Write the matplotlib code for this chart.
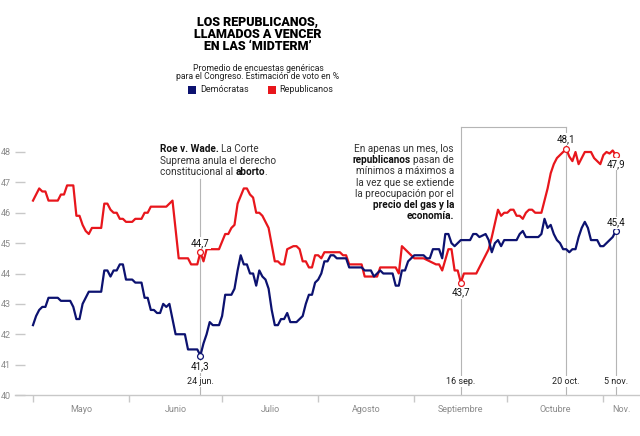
import matplotlib
matplotlib.use("Agg")
import matplotlib.pyplot as plt
from matplotlib.patches import Rectangle

# ---------------- data (day index counted from 1 May 2022) ----------------
rep_day = [0, 2, 3, 4, 5, 8, 9, 10, 11, 13, 14, 15, 16, 17, 18, 19, 22, 23, 24, 25, 26, 27,
           28, 29, 30, 32, 33, 35, 36, 37, 38, 43, 44, 45, 47, 50, 51, 53, 54, 55, 56, 60,
           62, 63, 64, 65, 66, 68, 69, 70, 71, 72, 73, 74, 75, 76, 78, 79, 80, 81, 82, 84,
           85, 86, 87, 88, 89, 90, 91, 92, 93, 94, 99, 100, 101, 102, 106, 107, 111, 112,
           117, 118, 119, 120, 121, 122, 123, 126, 128, 130, 131, 132, 134, 135, 136, 137,
           138, 139, 143, 144, 146, 147, 148, 150, 151, 152, 153, 154, 155, 156, 157, 158,
           159, 160, 161, 162, 164, 165, 166, 167, 168, 169, 170, 171, 172, 173, 174, 175,
           176, 177, 178, 180, 181, 183, 184, 185, 186, 187, 188]
rep_val = [46.4, 46.8, 46.7, 46.7, 46.4, 46.4, 46.6, 46.6, 46.9, 46.9, 45.9, 45.9, 45.6, 45.4,
           45.3, 45.5, 45.5, 46.3, 46.3, 46.1, 46.0, 46.0, 45.8, 45.8, 45.7, 45.7, 45.8, 45.8,
           46.0, 46.0, 46.2, 46.2, 46.3, 46.4, 44.5, 44.5, 44.3, 44.3, 44.7, 44.4, 44.8, 44.8,
           45.3, 45.3, 45.5, 45.6, 46.3, 46.8, 46.8, 46.6, 46.5, 46.0, 46.0, 45.9, 45.7, 45.5,
           44.4, 44.4, 44.3, 44.3, 44.8, 44.9, 44.9, 44.8, 44.4, 44.4, 44.2, 44.2, 44.6, 44.6,
           44.5, 44.7, 44.7, 44.6, 44.6, 44.3, 44.3, 43.9, 43.9, 44.2, 44.2, 44.0, 44.9, 44.8,
           44.7, 44.6, 44.5, 44.5, 44.4, 44.3, 44.3, 44.1, 44.8, 44.8, 44.1, 44.1, 43.7, 44.0,
           44.0, 44.2, 44.6, 44.8, 45.2, 46.1, 45.9, 46.0, 46.0, 46.1, 46.1, 45.9, 45.9, 45.8,
           46.0, 46.1, 46.1, 46.0, 46.0, 46.4, 46.8, 47.3, 47.6, 47.8, 47.9, 48.0, 48.1, 47.85,
           47.7, 48.0, 47.6, 47.8, 48.0, 48.0, 47.8, 47.6, 47.9, 48.0, 47.95, 48.05, 47.9]

dem_day = [0, 1, 2, 3, 4, 5, 8, 9, 12, 13, 14, 15, 16, 17, 18, 22, 23, 24, 25, 26, 27, 28, 29,
           30, 32, 33, 35, 36, 37, 38, 39, 40, 41, 42, 43, 44, 45, 46, 47, 49, 50, 53, 54, 55,
           56, 57, 58, 60, 61, 62, 64, 65, 66, 67, 68, 69, 70, 71, 72, 73, 74, 75, 76, 77, 78,
           79, 80, 81, 82, 83, 85, 86, 87, 88, 89, 90, 91, 92, 93, 94, 95, 96, 97, 98, 101, 102,
           106, 107, 109, 110, 112, 113, 116, 117, 118, 119, 120, 121, 123, 126, 127, 128, 129,
           131, 132, 133, 134, 135, 136, 137, 138, 141, 142, 143, 144, 146, 147, 148, 149, 150,
           151, 152, 156, 157, 158, 159, 163, 164, 165, 166, 167, 168, 169, 170, 171, 172, 173,
           174, 175, 176, 177, 178, 179, 180, 182, 183, 184, 185, 186, 187, 188]
dem_val = [42.3, 42.6, 42.8, 42.9, 42.9, 43.2, 43.2, 43.1, 43.1, 42.9, 42.5, 42.5, 43.0, 43.2,
           43.4, 43.4, 44.1, 44.1, 43.9, 44.1, 44.1, 44.3, 44.3, 43.8, 43.8, 43.7, 43.7, 43.2,
           43.2, 42.8, 42.8, 42.7, 42.7, 43.0, 42.9, 43.0, 42.5, 42.0, 42.0, 42.0, 41.5, 41.5,
           41.3, 41.7, 42.0, 42.4, 42.3, 42.3, 42.6, 43.3, 43.3, 43.5, 44.1, 44.6, 44.3, 44.3,
           44.0, 44.0, 43.6, 44.1, 43.9, 43.8, 43.5, 42.8, 42.3, 42.3, 42.5, 42.5, 42.7, 42.4,
           42.4, 42.5, 42.6, 43.0, 43.3, 43.3, 43.7, 43.8, 44.0, 44.4, 44.4, 44.6, 44.6, 44.5,
           44.5, 44.2, 44.2, 44.1, 44.1, 43.9, 44.1, 44.0, 44.0, 43.6, 43.6, 44.1, 44.1, 44.4,
           44.6, 44.6, 44.5, 44.5, 44.8, 44.8, 44.5, 45.3, 45.3, 45.0, 44.9, 45.0, 45.1, 45.1,
           45.3, 45.3, 45.2, 45.3, 45.1, 44.7, 45.0, 45.1, 44.9, 45.1, 45.1, 45.3, 45.4, 45.2,
           45.2, 45.3, 45.8, 45.5, 45.6, 45.3, 45.1, 45.0, 44.8, 44.8, 44.7, 44.8, 44.8, 45.2,
           45.5, 45.7, 45.5, 45.1, 45.1, 44.9, 44.9, 45.0, 45.1, 45.2, 45.4]

month_start = [0, 31, 61, 92, 123, 153, 184]
month_names = ["Mayo", "Junio", "Julio", "Agosto", "Septiembre", "Octubre", "Nov."]
y_ticks = [40, 41, 42, 43, 44, 45, 46, 47, 48]

# highlighted dates: (day, label)
key_days = [54, 138, 172, 188]
key_labels = ["24 jun.", "16 sep.", "20 oct.", "5 nov."]

# highlighted points
hl_day = [54, 54, 138, 172, 188, 188]
hl_val = [44.7, 41.3, 43.7, 48.1, 47.9, 45.4]
hl_txt = ["44,7", "41,3", "43,7", "48,1", "47,9", "45,4"]
hl_ser = ["R", "D", "R", "R", "R", "D"]

RED = "#e8161c"
BLUE = "#0c1270"
GRID = "#c8c8c8"
FONT = ["Roboto", "DejaVu Sans"]
NARROW = ["Liberation Sans Narrow", "Roboto", "DejaVu Sans"]
plt.rcParams["font.family"] = FONT

W, H = 640, 436
fig = plt.figure(figsize=(W / 100, H / 100), dpi=100)
PX_PER_DAY = 3.1
X0 = 33  # pixel of day 0
ax = fig.add_axes([15 / W, 41 / H, 625 / W, 243 / H])
ax.set_xlim((15 - X0) / PX_PER_DAY, (640 - X0) / PX_PER_DAY)
ax.set_ylim(40, 48)

for s in ["top", "right", "left"]:
    ax.spines[s].set_visible(False)
ax.spines["bottom"].set_color(GRID)
ax.spines["bottom"].set_linewidth(1)

ax.set_yticks(y_ticks)
ax.set_yticklabels([str(v) for v in y_ticks])
ax.tick_params(axis="y", direction="in", length=7, width=1, color=GRID,
               labelsize=6.5, labelcolor="#8a8a8a", pad=3)
ax.set_xticks(month_start)
ax.set_xticklabels([""] * len(month_start))
ax.tick_params(axis="x", which="major", direction="out", length=5, width=1, color=GRID)
ends = month_start[1:] + [ax.get_xlim()[1]]
ax.set_xticks([(a + b) / 2 for a, b in zip(month_start, ends)], minor=True)
ax.set_xticklabels(month_names, minor=True)
ax.tick_params(axis="x", which="minor", length=0, labelsize=6.5, labelcolor="#8a8a8a", pad=7)

# reference lines
LC = "#b5b5b5"
top_box = 48.82
ax.plot([key_days[0]] * 2, [40, 47.1], color=LC, lw=0.8, zorder=1, clip_on=False)
ax.plot([key_days[1]] * 2, [40, top_box], color=LC, lw=0.8, zorder=1, clip_on=False)
ax.plot([key_days[2]] * 2, [40, top_box], color=LC, lw=0.8, zorder=1, clip_on=False)
ax.plot([key_days[1], key_days[2]], [top_box, top_box], color=LC, lw=0.8, zorder=1, clip_on=False)
ax.plot([key_days[3]] * 2, [40, 47.9], color=LC, lw=0.8, zorder=1, clip_on=False)

ax.plot(rep_day, rep_val, color=RED, lw=1.6, zorder=3, clip_on=False)
ax.plot(dem_day, dem_val, color=BLUE, lw=1.6, zorder=3, clip_on=False)

for d, v, t, s in zip(hl_day, hl_val, hl_txt, hl_ser):
    c = RED if s == "R" else BLUE
    ax.plot([d], [v], "o", ms=4.2, mfc="white", mec=c, mew=0.9, zorder=6, clip_on=False)

PPU = 243 / 8.0  # pixels per unit
def yv(py):
    return 40 + (395 - py) / PPU

label_py = [243, 366.7, 292.7, 139, 164.3, 222.7]
for d, t, py in zip(hl_day, hl_txt, label_py):
    ax.text(d, yv(py), t, ha="center", va="center", fontsize=7, color="#111111",
            zorder=7, bbox=dict(fc="white", ec="none", pad=0.6))

for d, t in zip(key_days, key_labels):
    ax.text(d, yv(381.5), t, ha="center", va="center", fontsize=6.5, color="#222222",
            zorder=7, bbox=dict(fc="white", ec="none", pad=0.8))

# ---------------- titles ----------------
def fx(px):
    return px / W

def fy(py):
    return 1 - py / H

for i, line in enumerate(["LOS REPUBLICANOS,", "LLAMADOS A VENCER", "EN LAS \u2018MIDTERM\u2019"]):
    fig.text(fx(258), fy(22.7 + 12 * i), line, ha="center", va="center", fontsize=9,
             fontweight="black", color="#000000")
fig.text(fx(258), fy(68.3), "Promedio de encuestas genéricas", ha="center", va="center",
         fontsize=6.2, color="#222222")
fig.text(fx(258), fy(76.8), "para el Congreso. Estimación de voto en %", ha="center",
         va="center", fontsize=6.2, color="#222222")

fig.add_artist(Rectangle((fx(187.5), fy(94)), 8.5 / W, 8.5 / H, transform=fig.transFigure,
                         fc=BLUE, ec="none"))
fig.text(fx(200), fy(90), "Demócratas", ha="left", va="center", fontsize=6.5, color="#222222")
fig.add_artist(Rectangle((fx(267.5), fy(94)), 8.5 / W, 8.5 / H, transform=fig.transFigure,
                         fc=RED, ec="none"))
fig.text(fx(279.5), fy(90), "Republicanos", ha="left", va="center", fontsize=6.5,
         color="#222222")

# ---------------- rich annotations ----------------
renderer = fig.canvas.get_renderer()
ANN_SIZE = 7.2

def measure(s, bold):
    t = fig.text(0, 0, s, fontsize=ANN_SIZE, family=NARROW,
                 fontweight="bold" if bold else "normal")
    w = t.get_window_extent(renderer).width
    t.remove()
    return w

SPACE = measure("a a", False) - measure("aa", False)

def rich_line(px, py, parts, ha="left"):
    widths = [measure(s, b) for s, b in parts]
    total = sum(widths) + SPACE * (len(parts) - 1)
    x = px if ha == "left" else px - total
    for (s, b), w in zip(parts, widths):
        fig.text(fx(x), fy(py), s, ha="left", va="center", fontsize=ANN_SIZE, family=NARROW,
                 fontweight="bold" if b else "normal",
                 color="#111111" if b else "#333333")
        x += w + SPACE

left_ann = [
    [("Roe v. Wade.", True), ("La Corte", False)],
    [("Suprema anula el derecho", False)],
    [("constitucional al", False), ("aborto", True)],
]
for i, parts in enumerate(left_ann):
    rich_line(159.5, 149.3 + 11.2 * i, parts, ha="left")
w_prefix = measure("constitucional al", False) + SPACE + measure("aborto", True)
fig.text(fx(159.5 + w_prefix), fy(149.3 + 22.4), ".", ha="left", va="center",
         fontsize=ANN_SIZE, family=NARROW, color="#333333")

right_ann = [
    [("En apenas un mes, los", False)],
    [("republicanos", True), ("pasan de", False)],
    [("mínimos a máximos a", False)],
    [("la vez que se extiende", False)],
    [("la preocupación por el", False)],
    [("precio del gas y la", True)],
    [("economía.", True)],
]
for i, parts in enumerate(right_ann):
    rich_line(454, 149.3 + 11.1 * i, parts, ha="right")

fig.savefig("out.png", dpi=100, facecolor="white")
